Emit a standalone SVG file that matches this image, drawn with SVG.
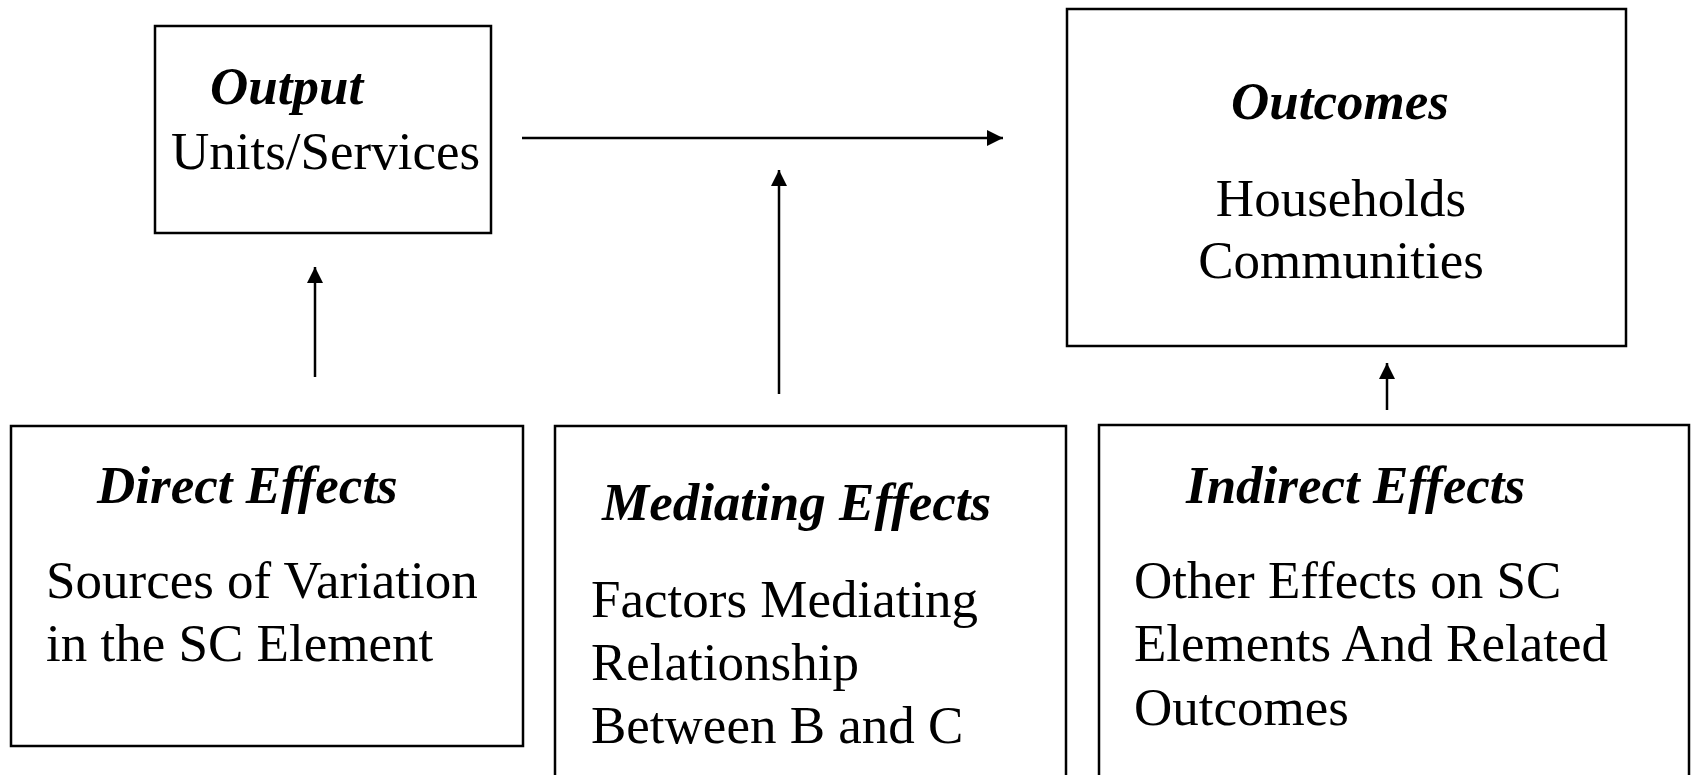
<svg xmlns="http://www.w3.org/2000/svg" width="1691" height="775" viewBox="0 0 1691 775">
<style>
.box{fill:#fff;stroke:#000;stroke-width:2.5}
.t{font-family:"Liberation Serif","Times New Roman",serif;font-size:53px;fill:#000}
.h{font-weight:bold;font-style:italic}
.c{text-anchor:middle}
.conn{stroke:#000;stroke-width:2.5;fill:none;marker-end:url(#ah)}
</style>
<defs>
<marker id="ah" markerUnits="userSpaceOnUse" markerWidth="18" markerHeight="18" refX="16" refY="8" orient="auto">
<path d="M0,0 L16,8 L0,16 Z" fill="#000"/>
</marker>
</defs>
<rect x="0" y="0" width="1691" height="775" fill="#fff"/>
<g id="output">
<rect class="box" x="155" y="26" width="336" height="207"/>
<text class="t h" x="210" y="104">Output</text>
<text class="t" x="171" y="169">Units/Services</text>
</g>
<g id="outcomes">
<rect class="box" x="1067" y="9" width="559" height="337"/>
<text class="t h c" x="1340" y="119">Outcomes</text>
<text class="t c" x="1341" y="216">Households</text>
<text class="t c" x="1341" y="278">Communities</text>
</g>
<g id="direct">
<rect class="box" x="11" y="426" width="512" height="320"/>
<text class="t h" x="97" y="503">Direct Effects</text>
<text class="t" x="46" y="598">Sources of Variation</text>
<text class="t" x="46" y="661">in the SC Element</text>
</g>
<g id="mediating">
<rect class="box" x="555" y="426" width="511" height="380"/>
<text class="t h" x="602" y="520">Mediating Effects</text>
<text class="t" x="591" y="617">Factors Mediating</text>
<text class="t" x="591" y="680">Relationship</text>
<text class="t" x="591" y="743">Between B and C</text>
</g>
<g id="indirect">
<rect class="box" x="1099" y="425" width="590" height="380"/>
<text class="t h" x="1186" y="503">Indirect Effects</text>
<text class="t" x="1134" y="598">Other Effects on SC</text>
<text class="t" x="1134" y="661">Elements And Related</text>
<text class="t" x="1134" y="725">Outcomes</text>
</g>
<g id="connectors">
<line class="conn" x1="522" y1="138" x2="1003" y2="138"/>
<line class="conn" x1="779" y1="394" x2="779" y2="170"/>
<line class="conn" x1="315" y1="377" x2="315" y2="267"/>
<line class="conn" x1="1387" y1="410" x2="1387" y2="363"/>
</g>
</svg>
